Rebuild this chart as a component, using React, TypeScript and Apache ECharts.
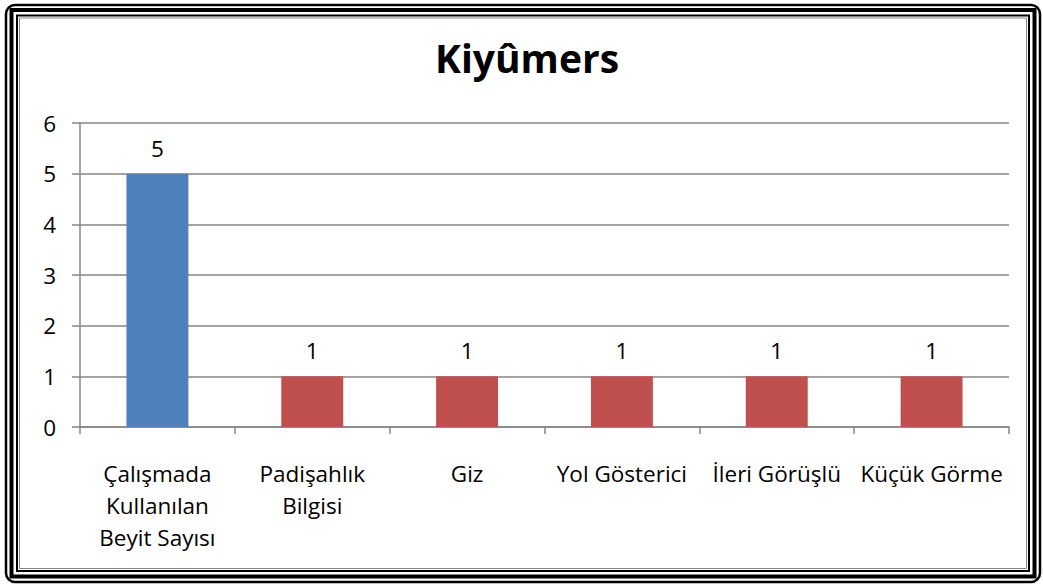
import React, { useEffect, useRef } from "react";
import * as echarts from "echarts";

const categories = [
  "Çalışmada\nKullanılan\nBeyit Sayısı",
  "Padişahlık\nBilgisi",
  "Giz",
  "Yol Gösterici",
  "İleri Görüşlü",
  "Küçük Görme",
];
const values = [5, 1, 1, 1, 1, 1];
const barColors = ["#4F81BD", "#C0504D", "#C0504D", "#C0504D", "#C0504D", "#C0504D"];
const titleText = "Kiyûmers";

const FONT = "'Open Sans', 'Noto Sans', sans-serif";

export default function App() {
  const ref = useRef<HTMLDivElement>(null);
  useEffect(() => {
    const chart = echarts.init(ref.current!, null, { renderer: "svg" });
    chart.setOption({
      animation: false,
      backgroundColor: "#ffffff",
      title: {
        text: titleText,
        left: 430,
        top: 33,
        textStyle: { fontFamily: FONT, fontSize: 39, fontWeight: "bold", color: "#000" },
      },
      grid: { left: 80, right: 34, top: 123, bottom: 158, containLabel: false },
      xAxis: {
        type: "category",
        data: categories,
        axisLine: { lineStyle: { color: "#868686", width: 1.5 } },
        axisTick: { show: true, length: 7, lineStyle: { color: "#868686", width: 1.5 } },
        axisLabel: {
          interval: 0,
          fontFamily: FONT,
          fontSize: 22.5,
          color: "#000",
          lineHeight: 32,
          margin: 30,
        },
      },
      yAxis: {
        type: "value",
        min: 0,
        max: 6,
        interval: 1,
        axisLine: { show: true, lineStyle: { color: "#868686", width: 1.5 } },
        axisTick: { show: true, length: 8, lineStyle: { color: "#868686", width: 1.5 } },
        splitLine: { lineStyle: { color: "#868686", width: 1.5 } },
        axisLabel: { fontFamily: FONT, fontSize: 22.5, color: "#000", margin: 24 },
      },
      series: [
        {
          type: "bar",
          data: values.map((v, i) => ({ value: v, itemStyle: { color: barColors[i] } })),
          barCategoryGap: "60%",
          label: {
            show: true,
            position: "top",
            distance: 14,
            fontFamily: FONT,
            fontSize: 22.5,
            color: "#000",
          },
        },
      ],
      graphic: [
        {
          type: "rect",
          shape: { x: 6, y: 5, width: 1034, height: 577, r: 9 },
          style: { fill: "none", stroke: "#000", lineWidth: 2.5 },
          silent: true,
        },
        {
          type: "rect",
          shape: { x: 11.5, y: 10, width: 1023, height: 566.5 },
          style: { fill: "none", stroke: "#000", lineWidth: 4 },
          silent: true,
        },
        {
          type: "rect",
          shape: { x: 17, y: 15.5, width: 1012, height: 555.5 },
          style: { fill: "none", stroke: "#000", lineWidth: 2 },
          silent: true,
        },
        {
          type: "rect",
          shape: { x: 19.5, y: 18, width: 1007, height: 550.5 },
          style: { fill: "none", stroke: "#868686", lineWidth: 1 },
          silent: true,
        },
      ],
    });
    return () => chart.dispose();
  }, []);
  return <div ref={ref} style={{ width: 1043, height: 585, position: "absolute", left: 0, top: 0 }} />;
}
